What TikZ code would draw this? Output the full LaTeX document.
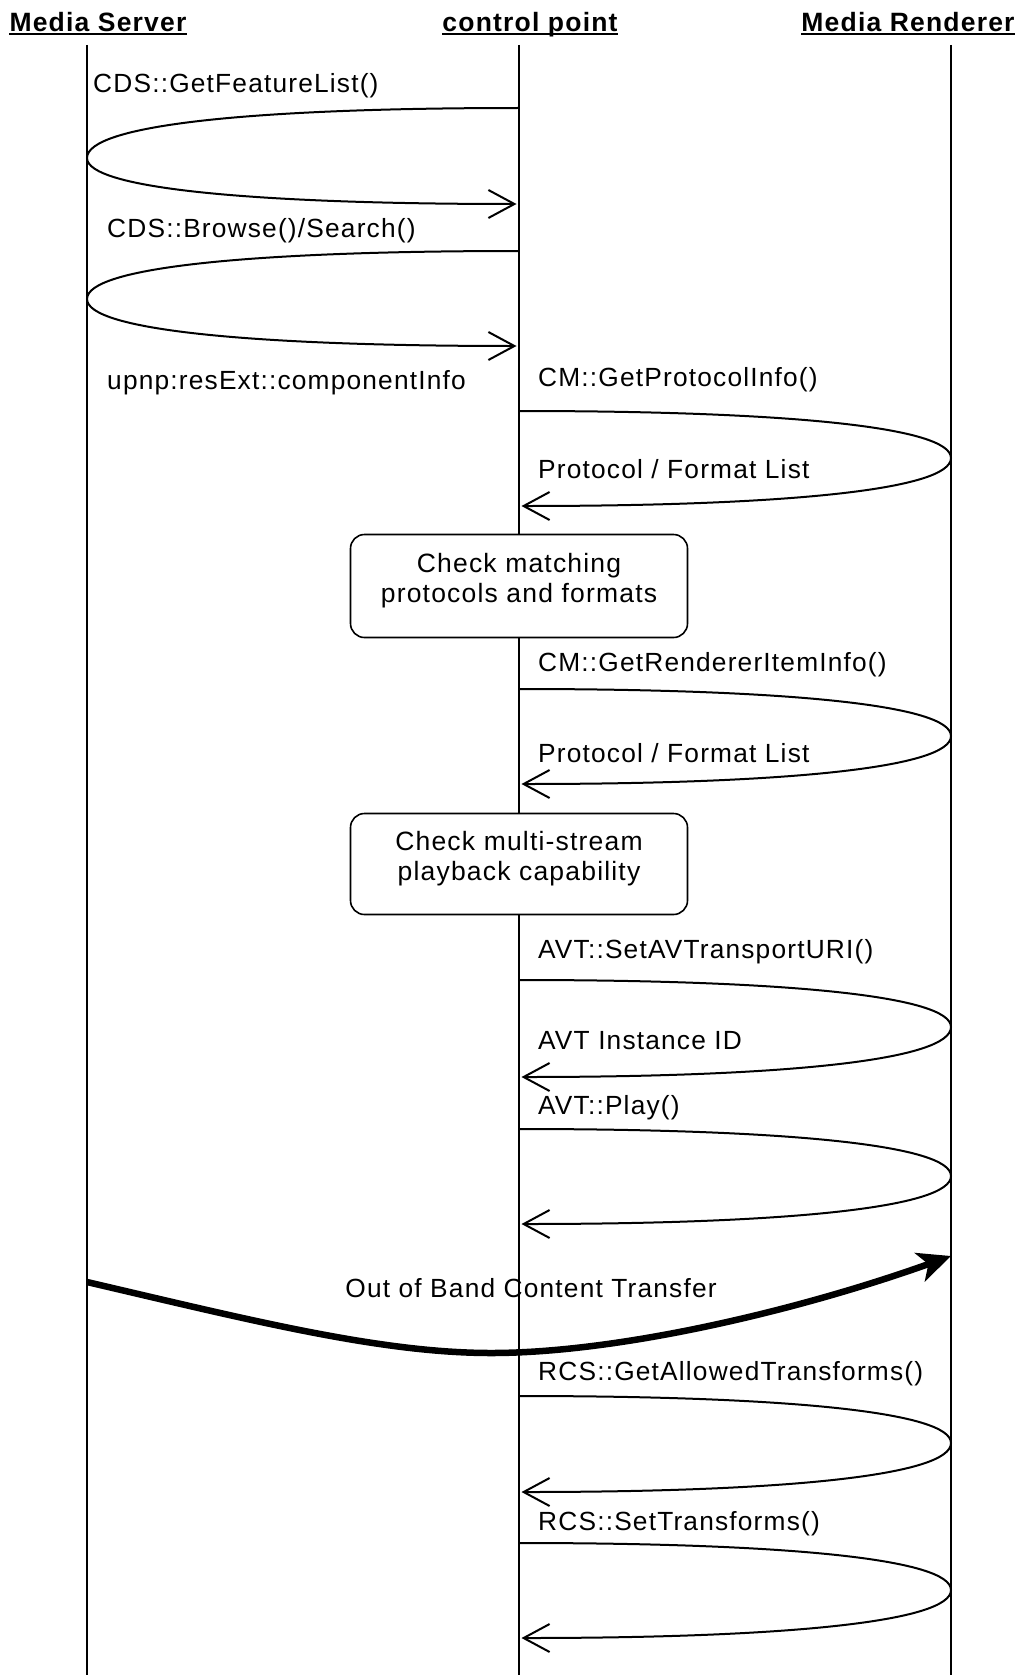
\documentclass[tikz,border=0pt]{standalone}
\usepackage{fontspec}
\setmainfont{Liberation Sans}
\newfontfamily\lblfont[LetterSpace=4.5]{Liberation Sans}
\newfontfamily\ttlfont[LetterSpace=4.5]{Liberation Sans Bold}
\usetikzlibrary{arrows.meta,calc}

% self-call style exchange: start -> apex on the other lifeline -> back
\newcommand\selfcall[3]{%
  \draw[msg] (#1) .. controls ($(#1)!0.62!(#1-|#2)$) and ($(#2)!0.66!(#2|-#1)$) .. (#2)
                  .. controls ($(#2)!0.66!(#2|-#3)$) and ($(#3)!0.62!(#3-|#2)$) .. (#3);}

\begin{document}
\begin{tikzpicture}[x=1pt,y=-1pt,
  lifeline/.style={line width=1.6pt},
  msg/.style={line width=2pt, shorten >=2.5pt,
    -{Straight Barb[length=26pt,width=28pt,line width=2pt]}},
  transfer/.style={line width=6.5pt,
    -{Stealth[length=33pt,width=30pt,inset=9pt]}},
  msglabel/.style={font=\fontsize{26.3}{30}\lblfont, anchor=base west, inner sep=0pt},
  ttl/.style={font=\fontsize{26.5}{30}\ttlfont, anchor=base, inner sep=0pt},
  checkbox/.style={draw, line width=1.6pt, rounded corners=14pt, fill=white,
    minimum width=337pt},
  checktext/.style={align=center, inner sep=0pt, font=\fontsize{26.5}{30}\lblfont}
]
\useasboundingbox (0,0) rectangle (1020,1675);

% participants
\node[ttl] (tServer) at (98,32) {Media Server};
\node[ttl] (tCP) at (530,32) {control point};
\node[ttl] (tRend) at (908,32) {Media Renderer};
\foreach \t in {tServer,tCP,tRend}
  \draw[line width=2pt] ([yshift=-2.5pt]\t.base west) -- ([yshift=-2.5pt]\t.base east);

% lifelines
\coordinate (msTop) at (87,45);   \coordinate (msBot) at (87,1675);
\coordinate (cpTop) at (519,45);  \coordinate (cpBot) at (519,1675);
\coordinate (mrTop) at (951,45);  \coordinate (mrBot) at (951,1675);
\draw[lifeline] (msTop) -- (msBot);
\draw[lifeline] (cpTop) -- (cpBot);
\draw[lifeline] (mrTop) -- (mrBot);

% points on the lifelines
\coordinate (c1s) at (519,108);  \coordinate (c1a) at (87,158);   \coordinate (c1e) at (519,204);
\coordinate (c2s) at (519,251);  \coordinate (c2a) at (87,299);   \coordinate (c2e) at (519,346);
\coordinate (r1s) at (519,411);  \coordinate (r1a) at (951,458);  \coordinate (r1e) at (519,506);
\coordinate (r2s) at (519,689);  \coordinate (r2a) at (951,736);  \coordinate (r2e) at (519,784);
\coordinate (r3s) at (519,980);  \coordinate (r3a) at (951,1027); \coordinate (r3e) at (519,1077);
\coordinate (r4s) at (519,1129); \coordinate (r4a) at (951,1176); \coordinate (r4e) at (519,1224);
\coordinate (r5s) at (519,1396); \coordinate (r5a) at (951,1443); \coordinate (r5e) at (519,1492);
\coordinate (r6s) at (519,1543); \coordinate (r6a) at (951,1590); \coordinate (r6e) at (519,1638);
\coordinate (oS) at (87,1282);   \coordinate (oM) at (491,1353);  \coordinate (oE) at (951,1256);

% control point <-> media server
\selfcall{c1s}{c1a}{c1e}
\selfcall{c2s}{c2a}{c2e}
\node[msglabel] (l1) at (93,93) {CDS::GetFeatureList()};
\node[msglabel] (l2) at (107,237) {CDS::Browse()/Search()};
\node[msglabel] (l3) at (107,389) {upnp:resExt::componentInfo};

% control point <-> media renderer
\selfcall{r1s}{r1a}{r1e}
\node[msglabel] (l4) at (538,386) {CM::GetProtocolInfo()};
\node[msglabel] (l5) at (538,478) {Protocol / Format List};

\node[checkbox, minimum height=103pt] (chk1) at (519,586) {};
\node[checktext] (chk1t) at ([yshift=5pt]chk1.center) {Check matching\\protocols and formats};

\selfcall{r2s}{r2a}{r2e}
\node[msglabel] (l6) at (538,671) {CM::GetRendererItemInfo()};
\node[msglabel] (l7) at (538,762) {Protocol / Format List};

\node[checkbox, minimum height=101pt] (chk2) at (519,864) {};
\node[checktext] (chk2t) at ([yshift=5pt]chk2.center) {Check multi-stream\\playback capability};

\selfcall{r3s}{r3a}{r3e}
\node[msglabel] (l8) at (538,958) {AVT::SetAVTransportURI()};
\node[msglabel] (l9) at (538,1049) {AVT Instance ID};

\selfcall{r4s}{r4a}{r4e}
\node[msglabel] (l10) at (538,1114) {AVT::Play()};

% content streaming
\draw[transfer] (oS) .. controls (250,1320) and (380,1353) .. (oM)
                     .. controls (620,1353) and (800,1310) .. (oE);
\node[msglabel, anchor=base] (l11) at (531,1297) {Out of Band Content Transfer};

\selfcall{r5s}{r5a}{r5e}
\node[msglabel] (l12) at (538,1380) {RCS::GetAllowedTransforms()};

\selfcall{r6s}{r6a}{r6e}
\node[msglabel] (l13) at (538,1530) {RCS::SetTransforms()};
\end{tikzpicture}
\end{document}
